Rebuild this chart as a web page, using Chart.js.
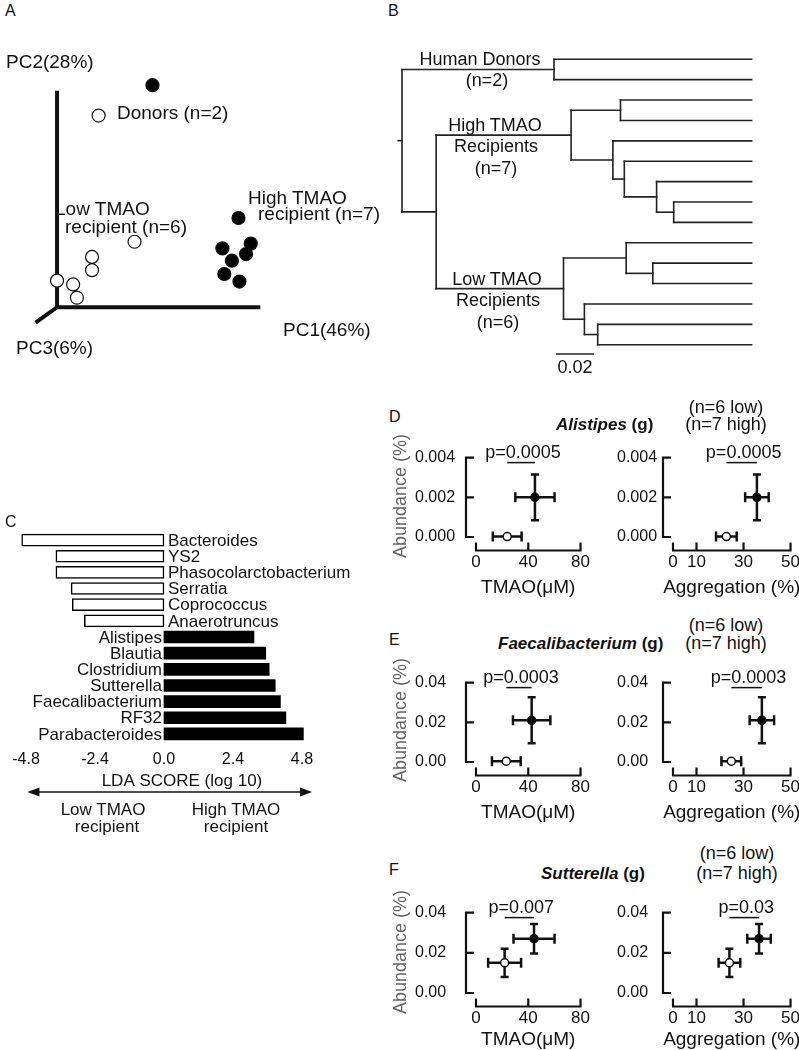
<!DOCTYPE html>
<html>
<head>
<meta charset="utf-8">
<script src="https://cdn.jsdelivr.net/npm/chart.js@4.4.1/dist/chart.umd.min.js"></script>
<style>
  body { margin: 0; background: #fff; }
  #fig { position: relative; width: 799px; height: 1050px; overflow: hidden; font-family: "Liberation Sans", Arial, sans-serif; color: #111; }
  #fig canvas { position: absolute; }
  .t { position: absolute; white-space: nowrap; line-height: 1; font-size: 18px; transform: translateY(-50%); }
  .m { transform: translate(-50%, -50%); }
  .p { font-size: 16px; }
  .s17 { font-size: 17px; }
  .s19 { font-size: 19px; }
  .ttl { font-size: 17px; font-weight: bold; }
  .ab { font-size: 18px; color: #666; transform: translate(-50%, -50%) rotate(-90deg); }
</style>
</head>
<body>
<div id="fig">
  <canvas id="pca" width="280" height="300" style="left:21px;top:50px"></canvas>
  <canvas id="tree" width="380" height="314" style="left:383px;top:45px"></canvas>
  <canvas id="lda" width="360" height="280" style="left:0px;top:525px"></canvas>
  <canvas id="dL"></canvas><canvas id="dR"></canvas>
  <canvas id="eL"></canvas><canvas id="eR"></canvas>
  <canvas id="fL"></canvas><canvas id="fR"></canvas>

  <div class="t p" style="left:5px;top:11px">A</div>
  <div class="t p" style="left:388px;top:11px">B</div>
  <div class="t p" style="left:5px;top:522px">C</div>
  <div class="t p" style="left:389px;top:417px">D</div>
  <div class="t p" style="left:389px;top:640px">E</div>
  <div class="t p" style="left:389px;top:870px">F</div>

  <div class="t s19" style="left:6px;top:61px">PC2(28%)</div>
  <div class="t s19" style="left:117px;top:112px">Donors (n=2)</div>
  <div class="t s19" style="left:55px;top:208px">Low TMAO</div>
  <div class="t s19" style="left:65px;top:226px">recipient (n=6)</div>
  <div class="t s19" style="left:248px;top:197px">High TMAO</div>
  <div class="t s19" style="left:258px;top:213px">recipient (n=7)</div>
  <div class="t s19" style="left:283px;top:329px">PC1(46%)</div>
  <div class="t s19" style="left:16px;top:347px">PC3(6%)</div>

  <div class="t m" style="left:480px;top:59px">Human Donors</div>
  <div class="t m" style="left:487px;top:80px">(n=2)</div>
  <div class="t m" style="left:495px;top:125px">High TMAO</div>
  <div class="t m" style="left:496px;top:146px">Recipients</div>
  <div class="t m" style="left:496px;top:168px">(n=7)</div>
  <div class="t m" style="left:497px;top:279px">Low TMAO</div>
  <div class="t m" style="left:498px;top:300px">Recipients</div>
  <div class="t m" style="left:498px;top:322px">(n=6)</div>
  <div class="t m" style="left:575px;top:367px">0.02</div>

  <div class="t m s17" style="left:103px;top:809px">Low TMAO</div>
  <div class="t m s17" style="left:107px;top:826px">recipient</div>
  <div class="t m s17" style="left:236px;top:809px">High TMAO</div>
  <div class="t m s17" style="left:236px;top:826px">recipient</div>

  <div class="t ttl" style="left:556px;top:424px"><i>Alistipes</i> (g)</div>
  <div class="t m" style="left:726px;top:407px">(n=6 low)</div>
  <div class="t m" style="left:726px;top:424px">(n=7 high)</div>
  <div class="t ttl" style="left:498px;top:643px"><i>Faecalibacterium</i> (g)</div>
  <div class="t m" style="left:726px;top:625px">(n=6 low)</div>
  <div class="t m" style="left:726px;top:643px">(n=7 high)</div>
  <div class="t ttl" style="left:541px;top:873px"><i>Sutterella</i> (g)</div>
  <div class="t m" style="left:737px;top:853px">(n=6 low)</div>
  <div class="t m" style="left:737px;top:873px">(n=7 high)</div>

  <div class="t ab" style="left:400px;top:496px">Abundance (%)</div>
  <div class="t ab" style="left:400px;top:720px">Abundance (%)</div>
  <div class="t ab" style="left:400px;top:952px">Abundance (%)</div>
</div>

<script>
Chart.defaults.font.family = '"Liberation Sans", Arial, sans-serif';
Chart.defaults.color = '#111';
Chart.defaults.plugins.legend.display = false;
Chart.defaults.plugins.tooltip.enabled = false;

// A - PCoA scores
const donorPC1 = [1.01, 0.44];
const donorPC2 = [2.34, 2.02];
const lowPC1 = [0.82, 0.37, 0.37, 0.00, 0.17, 0.21];
const lowPC2 = [0.69, 0.53, 0.39, 0.28, 0.24, 0.10];
const highPC1 = [1.92, 1.75, 2.05, 2.00, 1.85, 1.77, 1.93];
const highPC2 = [0.94, 0.62, 0.67, 0.56, 0.49, 0.35, 0.27];
const pcAxisLen = [2.13, 2.26];
const pc3Dir = [-0.21, -0.15];

// B - tree (distance from root)
const nodeIds = ['root', 'donors', 'recip', 'high', 'hA', 'hB', 'hC', 'hD', 'hE', 'low', 'lA', 'lB', 'lC', 'lD'];
const nodeParent = [null, 'root', 'root', 'recip', 'high', 'high', 'hB', 'hC', 'hD', 'recip', 'low', 'lA', 'low', 'lC'];
const nodeDist = [0, 0.080, 0.018, 0.089, 0.115, 0.111, 0.117, 0.134, 0.143, 0.085, 0.118, 0.132, 0.096, 0.103];
const leafParent = ['donors', 'donors', 'hA', 'hA', 'hB', 'hC', 'hD', 'hE', 'hE', 'lA', 'lB', 'lB', 'lC', 'lD', 'lD'];
const leafDist = 0.184;
const scaleBar = [0.081, 0.02];

// C - LEfSe
const genera = ['Bacteroides', 'YS2', 'Phasocolarctobacterium', 'Serratia', 'Coprococcus', 'Anaerotruncus',
  'Alistipes', 'Blautia', 'Clostridium', 'Sutterella', 'Faecalibacterium', 'RF32', 'Parabacteroides'];
const ldaScore = [-4.95, -3.76, -3.76, -3.23, -3.19, -2.77, 3.13, 3.54, 3.66, 3.87, 4.05, 4.24, 4.85];
const ldaTicks = [-4.8, -2.4, 0, 2.4, 4.8];
const arrowRange = [-4.75, 5.15];

// D-F  [low, high]
const alistipesAbund = [0.00002, 0.002], alistipesAbundSem = [0, 0.00115];
const alistipesTmao = [23.9, 45.1], alistipesTmaoSem = [11, 15];
const alistipesAgg = [22.7, 35.7], alistipesAggSem = [4.4, 5.0];
const faecaliAbund = [0.0004, 0.021], faecaliAbundSem = [0, 0.0116];
const faecaliTmao = [23.2, 42.6], faecaliTmaoSem = [11, 14.3];
const faecaliAgg = [24.8, 37.8], faecaliAggSem = [4.2, 5.2];
const sutterAbund = [0.015, 0.027], sutterAbundSem = [0.007, 0.0073];
const sutterTmao = [21.9, 44.4], sutterTmaoSem = [12.6, 15.7];
const sutterAgg = [24.0, 36.6], sutterAggSem = [4.6, 5.0];
const pTmao = ['p=0.0005', 'p=0.0003', 'p=0.007'];
const pAgg = ['p=0.0005', 'p=0.0003', 'p=0.03'];
const tmaoTicks = [0, 40, 80];
const aggTicks = [0, 10, 30, 50];
const abundTicksD = [0, 0.002, 0.004];
const abundTicksEF = [0, 0.02, 0.04];

// ---------- A
const pcAxes = {
  id: 'pcAxes',
  beforeDatasetsDraw(chart) {
    const { ctx, scales: { x, y } } = chart;
    const ox = x.getPixelForValue(0), oy = y.getPixelForValue(0);
    ctx.save();
    ctx.strokeStyle = '#111';
    ctx.lineWidth = 4;
    ctx.lineCap = 'square';
    ctx.beginPath();
    ctx.moveTo(ox, y.getPixelForValue(pcAxisLen[1])); ctx.lineTo(ox, oy);
    ctx.lineTo(x.getPixelForValue(pcAxisLen[0]), oy);
    ctx.moveTo(ox, oy); ctx.lineTo(x.getPixelForValue(pc3Dir[0]), y.getPixelForValue(pc3Dir[1]));
    ctx.stroke();
    ctx.restore();
  }
};

const pts = (a, b) => a.map((v, i) => ({ x: v, y: b[i] }));
new Chart(document.getElementById('pca'), {
  type: 'scatter',
  data: {
    datasets: [
      { label: 'Donors', data: pts(donorPC1, donorPC2), pointBackgroundColor: ['#000', '#fff'] },
      { label: 'Low TMAO recipient', data: pts(lowPC1, lowPC2), pointBackgroundColor: '#fff' },
      { label: 'High TMAO recipient', data: pts(highPC1, highPC2), pointBackgroundColor: '#000' }
    ].map(d => Object.assign(d, { pointRadius: 6.5, pointBorderWidth: 1.2, pointBorderColor: '#111', clip: false }))
  },
  options: {
    responsive: false, animation: false,
    layout: { padding: 0 },
    scales: {
      x: { min: -0.3, max: 2.5, display: false },
      y: { min: -0.37, max: 2.63, display: false }
    }
  },
  plugins: [pcAxes]
});

// ---------- B
const nodes = {};
nodeIds.forEach((id, i) => { nodes[id] = { id, parent: nodeParent[i], d: nodeDist[i], kids: [] }; });
nodeIds.forEach(id => { const p = nodes[id].parent; if (p) nodes[p].kids.push(nodes[id]); });
leafParent.forEach((p, i) => nodes[p].kids.push({ leaf: true, y: i, d: leafDist, parent: p }));
function placeY(n) {
  if (n.leaf) return n.y;
  const ys = n.kids.map(placeY);
  n.y0 = Math.min(...ys); n.y1 = Math.max(...ys);
  n.y = (n.y0 + n.y1) / 2;
  return n.y;
}
placeY(nodes.root);
const segs = [];
function walk(n) {
  if (n.parent) segs.push([[nodes[n.parent].d, n.y], [n.d, n.y]]);
  if (!n.leaf) { segs.push([[n.d, n.y0], [n.d, n.y1]]); n.kids.forEach(walk); }
}
walk(nodes.root);
segs.push([[-0.002, nodes.root.y], [0, nodes.root.y]]);

const treeBar = {
  id: 'treeBar',
  afterDatasetsDraw(chart) {
    const { ctx, scales: { x, y } } = chart;
    const py = y.getPixelForValue(14.45);
    ctx.save();
    ctx.strokeStyle = '#222'; ctx.lineWidth = 1.5;
    ctx.beginPath();
    ctx.moveTo(x.getPixelForValue(scaleBar[0]), py);
    ctx.lineTo(x.getPixelForValue(scaleBar[0] + scaleBar[1]), py);
    ctx.stroke();
    ctx.restore();
  }
};

new Chart(document.getElementById('tree'), {
  type: 'scatter',
  data: {
    datasets: segs.map(s => ({
      data: s.map(p => ({ x: p[0], y: p[1] })),
      showLine: true, borderColor: '#222', borderWidth: 1.6, borderCapStyle: 'square',
      pointRadius: 0, clip: false
    }))
  },
  options: {
    responsive: false, animation: false,
    layout: { padding: 0 },
    scales: {
      x: { min: -0.01, max: 0.19, display: false },
      y: { min: -0.7, max: 14.7, reverse: true, display: false }
    }
  },
  plugins: [treeBar]
});

// ---------- C
const ldaDeco = {
  id: 'ldaDeco',
  afterDatasetsDraw(chart) {
    const { ctx, chartArea: a, scales: { x } } = chart;
    const x0 = x.getPixelForValue(0);
    const meta = chart.getDatasetMeta(0);
    ctx.save();
    ctx.fillStyle = '#111';
    ctx.font = '17px "Liberation Sans", Arial, sans-serif';
    ctx.textBaseline = 'middle';
    meta.data.forEach((bar, i) => {
      if (ldaScore[i] < 0) { ctx.textAlign = 'left'; ctx.fillText(genera[i], x0 + 4, bar.y + 1); }
      else { ctx.textAlign = 'right'; ctx.fillText(genera[i], x0 - 2, bar.y + 1); }
    });
    // arrow
    const ay = a.bottom + 50;
    const xa = x.getPixelForValue(arrowRange[0]), xb = x.getPixelForValue(arrowRange[1]);
    ctx.strokeStyle = '#111'; ctx.lineWidth = 1.5;
    ctx.beginPath(); ctx.moveTo(xa + 8, ay); ctx.lineTo(xb - 8, ay); ctx.stroke();
    ctx.beginPath();
    ctx.moveTo(xa, ay); ctx.lineTo(xa + 12, ay - 4.5); ctx.lineTo(xa + 12, ay + 4.5); ctx.closePath();
    ctx.moveTo(xb, ay); ctx.lineTo(xb - 12, ay - 4.5); ctx.lineTo(xb - 12, ay + 4.5); ctx.closePath();
    ctx.fill();
    ctx.restore();
  }
};

new Chart(document.getElementById('lda'), {
  type: 'bar',
  data: {
    labels: genera,
    datasets: [{
      data: ldaScore,
      backgroundColor: ldaScore.map(v => v < 0 ? '#fff' : '#000'),
      borderColor: '#000',
      borderWidth: ldaScore.map(v => v < 0 ? 1.5 : 0),
      borderSkipped: false,
      barThickness: 12
    }]
  },
  options: {
    indexAxis: 'y',
    responsive: false, animation: false,
    layout: { padding: { left: 14.5, right: 10.6, top: 7, bottom: 13 } },
    scales: {
      y: { display: false },
      x: {
        min: -5.2, max: 6.45,
        afterBuildTicks: s => { s.ticks = ldaTicks.map(v => ({ value: v })); },
        afterFit: s => { s.height = 50; },
        grid: { display: false, drawTicks: false },
        border: { display: false },
        ticks: { padding: 8, autoSkip: false, maxRotation: 0, font: { size: 16 }, callback: v => v.toFixed(1) },
        title: { display: true, text: 'LDA SCORE (log 10)', font: { size: 17 }, padding: 0 }
      }
    }
  },
  plugins: [ldaDeco]
});

// ---------- D-F
const miniDeco = {
  id: 'miniDeco',
  beforeDatasetsDraw(chart) {
    const { ctx, chartArea: a, scales: { x, y } } = chart;
    const ds = chart.data.datasets[0];
    ctx.save();
    ctx.strokeStyle = '#111';
    ctx.lineWidth = 2.2;
    const ax = a.left - 10, ay = a.bottom + 13.5;
    ctx.beginPath();
    ctx.moveTo(ax, y.getPixelForValue(y.max) - 1); ctx.lineTo(ax, y.getPixelForValue(y.min) + 1);
    y.ticks.forEach(t => { const py = y.getPixelForValue(t.value); ctx.moveTo(ax, py); ctx.lineTo(ax + 8, py); });
    ctx.moveTo(x.getPixelForValue(x.min) - 1, ay); ctx.lineTo(x.getPixelForValue(x.max) + 1, ay);
    x.ticks.forEach(t => { const px = x.getPixelForValue(t.value); ctx.moveTo(px, ay); ctx.lineTo(px, ay - 8); });
    ctx.stroke();

    // error bars
    ctx.lineWidth = 2.5;
    ctx.beginPath();
    ds.data.forEach((p, i) => {
      const px = x.getPixelForValue(p.x), py = y.getPixelForValue(p.y);
      if (ds.xErr[i] > 0) {
        const x0 = x.getPixelForValue(p.x - ds.xErr[i]), x1 = x.getPixelForValue(p.x + ds.xErr[i]);
        ctx.moveTo(x0, py); ctx.lineTo(x1, py);
        ctx.moveTo(x0, py - 5); ctx.lineTo(x0, py + 5);
        ctx.moveTo(x1, py - 5); ctx.lineTo(x1, py + 5);
      }
      if (ds.yErr[i] > 0) {
        const y0 = y.getPixelForValue(p.y - ds.yErr[i]), y1 = y.getPixelForValue(p.y + ds.yErr[i]);
        ctx.moveTo(px, y0); ctx.lineTo(px, y1);
        ctx.moveTo(px - 4, y0); ctx.lineTo(px + 4, y0);
        ctx.moveTo(px - 4, y1); ctx.lineTo(px + 4, y1);
      }
    });
    ctx.stroke();

    // p-value bar
    const bx0 = x.getPixelForValue(ds.data[0].x), bx1 = x.getPixelForValue(ds.data[1].x);
    const by = a.top + 5;
    ctx.lineWidth = 1.5;
    ctx.beginPath(); ctx.moveTo(bx0, by); ctx.lineTo(bx1, by); ctx.stroke();
    ctx.fillStyle = '#111';
    ctx.font = '18px "Liberation Sans", Arial, sans-serif';
    ctx.textAlign = 'center'; ctx.textBaseline = 'middle';
    ctx.fillText(ds.pText, (bx0 + bx1) / 2 + 2, by - 10);

    // x-axis title (drawn unconstrained, so it is not squeezed to the plot width)
    ctx.font = '19px "Liberation Sans", Arial, sans-serif';
    ctx.fillText(ds.xTitle, (a.left + a.right) / 2, a.bottom + ds.titleOffset);
    ctx.restore();
  }
};

const rows = [
  { top: 453, h: 84, xh: 62, title: 51 },
  { top: 678, h: 84, xh: 62, title: 51 },
  { top: 908, h: 85, xh: 58, title: 47 }
];
const sides = {
  left: { left: 405, width: 200, padL: 10, yW: 61, padR: 12 },
  right: { left: 605, width: 210, padL: 12, yW: 56, padR: 23 }
};

function miniChart(id, side, row, xs, xErr, ys, yErr, xMax, xTicks, yMax, yTicks, digits, xTitle, pText) {
  const L = sides[side], R = rows[row];
  const cv = document.getElementById(id);
  cv.width = L.width; cv.height = 25 + R.h + R.xh;
  cv.style.left = L.left + 'px'; cv.style.top = (R.top - 25) + 'px';
  return new Chart(cv, {
    type: 'scatter',
    data: {
      datasets: [{
        data: pts(xs, ys), xErr, yErr, pText, xTitle, titleOffset: R.title,
        pointRadius: 4, pointBorderWidth: 1.5,
        pointBackgroundColor: ['#fff', '#000'], pointBorderColor: '#111',
        clip: false
      }]
    },
    options: {
      responsive: false, animation: false,
      layout: { padding: { left: L.padL, right: L.padR, top: 25, bottom: 0 } },
      scales: {
        x: {
          type: 'linear', min: 0, max: xMax,
          afterBuildTicks: s => { s.ticks = xTicks.map(v => ({ value: v })); },
          afterFit: s => { s.height = R.xh; },
          grid: { display: false, drawTicks: false },
          border: { display: false },
          ticks: { padding: 15, autoSkip: false, maxRotation: 0, font: { size: 17 } }
        },
        y: {
          min: 0, max: yMax,
          afterBuildTicks: s => { s.ticks = yTicks.map(v => ({ value: v })); },
          afterFit: s => { s.width = L.yW; },
          grid: { display: false, drawTicks: false },
          border: { display: false },
          ticks: { padding: 20, crossAlign: 'far', font: { size: 16 }, callback: v => v.toFixed(digits) }
        }
      }
    },
    plugins: [miniDeco]
  });
}

miniChart('dL', 'left', 0, alistipesTmao, alistipesTmaoSem, alistipesAbund, alistipesAbundSem, 80, tmaoTicks, 0.004, abundTicksD, 3, 'TMAO(\u03bcM)', pTmao[0]);
miniChart('dR', 'right', 0, alistipesAgg, alistipesAggSem, alistipesAbund, alistipesAbundSem, 50, aggTicks, 0.004, abundTicksD, 3, 'Aggregation (%)', pAgg[0]);
miniChart('eL', 'left', 1, faecaliTmao, faecaliTmaoSem, faecaliAbund, faecaliAbundSem, 80, tmaoTicks, 0.04, abundTicksEF, 2, 'TMAO(\u03bcM)', pTmao[1]);
miniChart('eR', 'right', 1, faecaliAgg, faecaliAggSem, faecaliAbund, faecaliAbundSem, 50, aggTicks, 0.04, abundTicksEF, 2, 'Aggregation (%)', pAgg[1]);
miniChart('fL', 'left', 2, sutterTmao, sutterTmaoSem, sutterAbund, sutterAbundSem, 80, tmaoTicks, 0.04, abundTicksEF, 2, 'TMAO(\u03bcM)', pTmao[2]);
miniChart('fR', 'right', 2, sutterAgg, sutterAggSem, sutterAbund, sutterAbundSem, 50, aggTicks, 0.04, abundTicksEF, 2, 'Aggregation (%)', pAgg[2]);
</script>
</body>
</html>
